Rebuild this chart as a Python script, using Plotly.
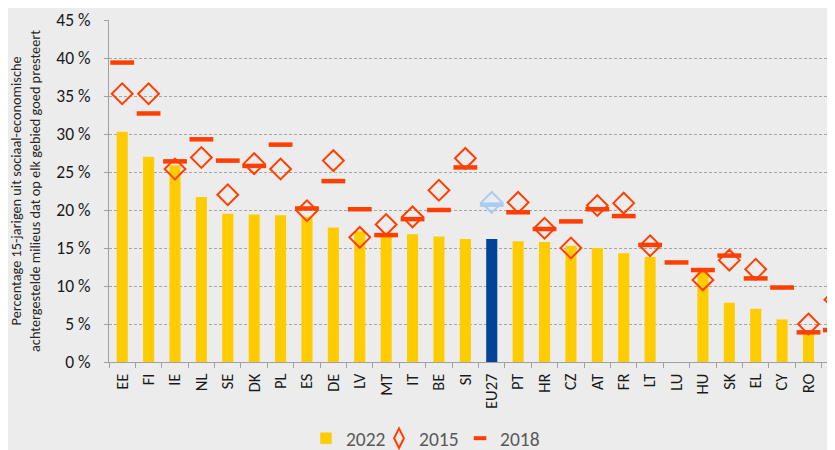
import plotly.graph_objects as go

countries = ["EE", "FI", "IE", "NL", "SE", "DK", "PL", "ES", "DE", "LV", "MT", "IT", "BE", "SI",
             "EU27", "PT", "HR", "CZ", "AT", "FR", "LT", "LU", "HU", "SK", "EL", "CY", "RO", "BG"]
v2022 = [30.3, 27.0, 25.9, 21.7, 19.5, 19.4, 19.3, 19.1, 17.7, 17.2, 17.0, 16.8, 16.5, 16.2,
         16.2, 15.9, 15.8, 15.3, 15.0, 14.3, 13.8, None, 11.9, 7.8, 7.0, 5.6, 3.7, 2.4]
v2015 = [35.3, 35.3, 25.4, 26.9, 22.0, 26.1, 25.4, 19.9, 26.5, 16.4, 18.1, 19.1, 22.6, 26.8,
         21.0, 21.0, 17.6, 15.0, 20.6, 20.9, 15.3, None, 10.8, 13.4, 12.2, None, 5.0, 8.2]
v2018 = [39.4, 32.7, 26.4, 29.3, 26.5, 25.8, 28.6, 20.2, 23.8, 20.1, 16.7, 18.8, 20.0, 25.6,
         20.7, 19.7, 17.5, 18.5, 20.1, 19.2, 15.4, 13.1, 12.1, 14.0, 11.0, 9.8, 3.9, 4.2]
y_ticks = [0, 5, 10, 15, 20, 25, 30, 35, 40, 45]
y_ticktext = [f"{v} %" for v in y_ticks]

YELLOW = "#FFCC00"
BLUE = "#00449A"
RED = "#FF3F00"
LIGHTBLUE = "#A8CCF2"
FONT = "Calibri, Carlito, Lato, sans-serif"

bar_colors = [BLUE if c == "EU27" else YELLOW for c in countries]
mk_colors = [LIGHTBLUE if c == "EU27" else RED for c in countries]

fig = go.Figure()
fig.add_trace(go.Bar(x=countries, y=v2022, marker=dict(color=bar_colors, line=dict(width=0)),
                     showlegend=False, name="2022"))
fig.add_trace(go.Scatter(x=countries, y=v2015, mode="markers", showlegend=False, name="2015",
                         cliponaxis=False,
                         marker=dict(symbol="diamond-open", size=16, color=mk_colors,
                                     line=dict(width=2, color=mk_colors))))
fig.add_trace(go.Scatter(x=countries, y=v2018, mode="markers", showlegend=False, name="2018",
                         cliponaxis=False,
                         marker=dict(symbol="line-ew", size=17,
                                     line=dict(width=4.5, color=mk_colors))))

# legend-only entries
fig.add_trace(go.Bar(x=[None], y=[None], name="2022", marker=dict(color=YELLOW), legend="legend"))
fig.add_trace(go.Scatter(x=[None], y=[None], mode="markers", name="2015", legend="legend2",
                         marker=dict(symbol="diamond-tall-open", size=14, color=RED,
                                     line=dict(width=2, color=RED))))
fig.add_trace(go.Scatter(x=[None], y=[None], mode="markers", name="2018", legend="legend3",
                         marker=dict(symbol="line-ew", size=9, line=dict(width=4, color=RED))))

leg_common = dict(orientation="h", xanchor="left", xref="paper",
                  y=0.026, yanchor="middle", yref="container",
                  font=dict(size=19.5, color="#595959", family=FONT),
                  bgcolor="rgba(0,0,0,0)", itemwidth=30)

fig.update_layout(
    width=827, height=442,
    margin=dict(l=101, r=0, t=12, b=88, autoexpand=False),
    paper_bgcolor="#ECECEC", plot_bgcolor="#ECECEC",
    font=dict(family=FONT, size=16, color="#1a1a1a"),
    bargap=0.58,
    showlegend=True,
    legend=dict(x=0.2713, **leg_common),
    legend2=dict(x=0.3719, **leg_common),
    legend3=dict(x=0.4835, **leg_common),
    xaxis=dict(type="category", range=[-0.5, 27.004], tickangle=-90, automargin=False,
               showline=True, linecolor="#A0A0A0", linewidth=1,
               ticks="outside", tickson="boundaries", ticklen=5, tickcolor="#A0A0A0",
               ticklabelstandoff=4,
               showgrid=False, tickfont=dict(size=16.5, color="#1a1a1a")),
    yaxis=dict(range=[0, 45], tickmode="array", tickvals=y_ticks, ticktext=y_ticktext,
               automargin=False,
               showline=True, linecolor="#A0A0A0", linewidth=1,
               ticks="outside", ticklen=4, tickcolor="#A0A0A0", ticklabelstandoff=10,
               showgrid=True, gridcolor="#A6A6A6", griddash="3px,2px", gridwidth=1,
               zeroline=False, tickfont=dict(size=17.5, color="#1a1a1a")),
)

fig.add_annotation(
    text="Percentage 15-jarigen uit sociaal-economische<br>achtergestelde milieus dat op elk gebied goed presteert",
    xref="paper", yref="paper", x=-0.1157, y=0.5, xanchor="center", yanchor="middle",
    textangle=-90, showarrow=False, font=dict(size=14.3, color="#262626", family=FONT))

fig.write_html("out.html")
